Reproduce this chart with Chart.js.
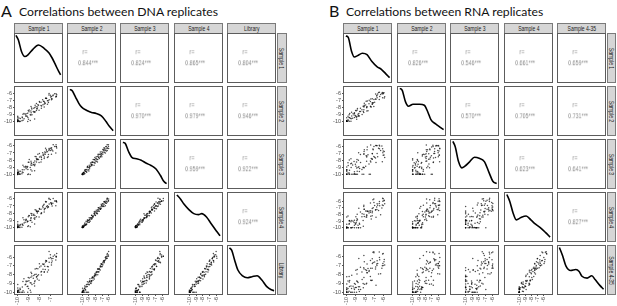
<!DOCTYPE html>
<html>
<head>
<meta charset="utf-8">
<script src="https://cdn.jsdelivr.net/npm/chart.js@4/dist/chart.umd.min.js"></script>
<style>
  body { margin: 0; width: 617px; height: 306px; overflow: hidden; background: #fff; position: relative; font-family: "Liberation Sans", Arial, sans-serif; }
  canvas { position: absolute; }
  .letter { position: absolute; font-family: Lato, "Open Sans", sans-serif; font-size: 16px; line-height: 1; color: #111; }
  .title { position: absolute; font-family: Lato, "Open Sans", sans-serif; font-size: 12.2px; line-height: 1; color: #111; white-space: nowrap; }
  .cell { position: absolute; box-sizing: border-box; border: 1px solid #5c5c5c; background: #fff; }
  .strip { position: absolute; box-sizing: border-box; border: 1px solid #7a7a7a; background: #d6d6d6; color: #1a1a1a; font-size: 7px; display: flex; align-items: center; justify-content: center; white-space: nowrap; overflow: hidden; }
  .strip span { display: inline-block; transform: scaleX(0.72); }
  .rstrip span { transform: rotate(90deg) scaleX(0.72); }
  .corr { position: absolute; font-size: 7.5px; line-height: 1; color: #8c8c8c; white-space: nowrap; transform: translate(-50%, -50%) scaleX(0.72); will-change: transform; }
</style>
</head>
<body>
<script>
// ---- data ----
const dnaNames = ["Sample 1", "Sample 2", "Sample 3", "Sample 4", "Library"];
const rnaNames = ["Sample 1", "Sample 2", "Sample 3", "Sample 4", "Sample 4-35"];

// correlations, row i against the columns to its right
const dnaR = [[0.844, 0.824, 0.865, 0.804], [0.970, 0.979, 0.946], [0.959, 0.922], [0.924]];
const rnaR = [[0.826, 0.546, 0.661, 0.659], [0.570, 0.705, 0.731], [0.623, 0.641], [0.827]];

const tickVals = [-10, -9, -8, -7, -6];
const dnaLimits = [[-10.25, -6.3], [-10.2, -5.65], [-10.2, -5.75], [-10.2, -5.75], [-10.2, -5.2]];
const rnaLimits = [[-10.3, -5.6], [-10.25, -5.6], [-10.25, -5.7], [-10.2, -5.35], [-10.2, -5.3]];

// log values per gene (same gene order in every array)
const dnaS1 = [-10, -9.79, -10, -9.86, -10, -9.08, -10, -8.85, -10, -10,
  -9.61, -9.79, -10, -9.01, -9.92, -9.76, -9.51, -10, -8.45, -9.89,
  -9.42, -9.59, -9.07, -10, -9.13, -9.58, -9.26, -10, -8.69, -9.22,
  -9.32, -8.79, -9.52, -8.85, -9.09, -8.50, -9.23, -8.77, -9.43, -8.41,
  -8.79, -8.97, -8.44, -9.03, -8.57, -8.04, -8.70, -8.94, -8.28, -8.52,
  -8.20, -8.72, -8.26, -8.43, -7.83, -8.78, -8.18, -7.86, -8.31, -7.57,
  -8.09, -8.40, -7.81, -7.56, -8.15, -7.27, -8.28, -7.68, -7.86, -7.47,
  -7.99, -7.18, -7.63, -7.52, -7.20, -8.01, -7.27, -7.58, -6.84, -7.71,
  -6.90, -7.35, -7.11, -7.42, -6.89, -6.50, -7.37, -6.98, -7.44, -6.77,
  -6.45, -6.90, -7.00, -6.47, -7.13, -6.61, -6.42, -6.74, -7.12, -6.48];
const dnaS2 = [-9.94, -10, -9.98, -10, -9.88, -10, -9.96, -9.86, -9.98, -9.76,
  -9.89, -9.96, -9.77, -9.68, -9.83, -9.56, -9.82, -9.62, -9.64, -9.49,
  -9.60, -9.34, -9.43, -9.37, -9.24, -9.44, -9.20, -9.25, -9.01, -9.22,
  -8.96, -9.06, -8.95, -9.01, -8.82, -8.68, -8.90, -8.75, -8.85, -8.62,
  -8.50, -8.60, -8.59, -8.41, -8.56, -8.38, -8.22, -8.35, -8.43, -8.12,
  -8.18, -8.08, -8.17, -8.01, -8.10, -7.84, -7.94, -7.71, -7.89, -7.92,
  -7.66, -7.68, -7.77, -7.51, -7.60, -7.52, -7.42, -7.59, -7.25, -7.42,
  -7.26, -7.28, -7.09, -7.27, -7.04, -7.14, -7.02, -7.13, -6.79, -6.90,
  -6.90, -6.72, -6.89, -6.67, -6.70, -6.50, -6.68, -6.51, -6.67, -6.34,
  -6.42, -6.44, -6.25, -6.39, -6.22, -6.04, -6.20, -6.23, -6.01, -6.04];
const dnaS3 = [-10, -9.97, -10, -9.92, -9.80, -10, -9.96, -10, -9.87, -9.75,
  -9.90, -9.92, -9.71, -9.93, -9.72, -9.54, -9.73, -9.84, -9.47, -9.55,
  -9.34, -9.66, -9.31, -9.63, -9.02, -9.34, -8.84, -9.35, -9.51, -8.90,
  -9.00, -9.32, -8.71, -9.03, -8.88, -8.68, -9.20, -8.39, -8.91, -8.56,
  -8.68, -8.28, -8.79, -8.29, -8.60, -8.34, -8.72, -7.91, -8.27, -8.32,
  -7.92, -8.44, -7.93, -8.11, -7.64, -8.16, -7.82, -8.27, -7.53, -7.78,
  -7.90, -7.50, -7.91, -7.55, -7.16, -7.62, -7.78, -7.27, -7.45, -7.18,
  -7.56, -7.20, -7.31, -6.87, -7.52, -7.08, -6.84, -7.15, -6.59, -6.96,
  -7.16, -6.72, -6.51, -6.93, -6.28, -7.00, -6.54, -6.65, -6.35, -6.72,
  -6.12, -6.44, -6.33, -6.09, -6.64, -6.10, -6.32, -5.85, -6.37, -5.86];
const dnaS4 = [-9.90, -10, -10, -9.94, -10, -9.84, -10, -9.90, -9.94, -9.78,
  -9.97, -9.76, -9.87, -9.76, -9.89, -9.56, -9.68, -9.68, -9.50, -9.67,
  -9.38, -9.50, -9.13, -9.53, -9.24, -9.60, -9.00, -9.19, -9.27, -8.94,
  -9.26, -8.98, -8.65, -9.01, -9.12, -8.72, -8.84, -8.63, -8.91, -8.62,
  -8.70, -8.34, -8.85, -8.49, -8.28, -8.52, -8.08, -8.35, -8.51, -8.14,
  -7.98, -8.30, -7.77, -8.33, -7.96, -8.04, -7.80, -8.07, -7.59, -7.82,
  -7.74, -7.54, -7.97, -7.53, -7.68, -7.24, -7.72, -7.23, -7.47, -7.30,
  -7.46, -7.14, -6.89, -7.37, -7.12, -7.36, -6.96, -6.75, -6.99, -7.02,
  -6.70, -7.06, -6.73, -6.45, -6.76, -6.96, -6.40, -6.55, -6.39, -6.62,
  -6.34, -6.58, -6.09, -6.33, -5.92, -6.32, -6.44, -5.95, -6.03, -6.26];
const dnaLib = [-9.96, -10, -9.88, -10, -9.76, -10, -9.96, -9.78, -10, -9.82,
  -10, -9.56, -10, -9.58, -9.83, -9.68, -9.84, -9.52, -9.28, -9.75,
  -10, -10, -9.33, -9.13, -9.36, -9.40, -9.08, -10, -9.11, -8.82,
  -9.14, -10, -8.77, -8.93, -8.76, -9.00, -8.72, -8.95, -8.47, -8.70,
  -8.30, -8.70, -8.81, -8.33, -8.40, -8.64, -8.16, -8.39, -8.27, -8.10,
  -8.50, -7.86, -8.25, -7.97, -8.04, -7.72, -8.12, -7.71, -7.95, -7.74,
  -8.02, -7.37, -7.63, -7.66, -7.32, -7.71, -7.30, -7.40, -7.03, -7.41,
  -7.12, -7.47, -6.85, -7.04, -7.10, -6.77, -7.08, -6.78, -6.45, -6.79,
  -6.90, -6.49, -6.59, -6.38, -6.64, -6.35, -6.42, -6.04, -6.55, -6.17,
  -5.96, -6.19, -5.73, -6.00, -6.14, -5.77, -5.60, -5.90, -5.37, -5.91];

const rnaS1 = [-9.52, -10, -9.16, -10, -10, -9.74, -9.36, -10, -8.96, -10,
  -9.75, -10, -9.45, -10, -9.03, -9.84, -9.68, -9.16, -10, -9.31,
  -9.86, -8.62, -10, -8.77, -9.56, -9.16, -9.72, -8.83, -8.19, -9.70,
  -9.06, -9.86, -8.73, -8.21, -9.00, -9.20, -8.32, -9.47, -8.59, -7.82,
  -8.86, -9.54, -7.93, -8.49, -8.08, -8.88, -8.12, -8.91, -7.55, -8.34,
  -7.22, -8.50, -8.93, -7.57, -7.88, -8.68, -7.32, -8.11, -7.83, -7.42,
  -8.70, -6.86, -8.13, -7.37, -7.68, -6.80, -8.08, -6.95, -7.75, -7.22,
  -8.14, -6.30, -7.21, -7.41, -6.52, -7.80, -6.68, -7.11, -6.11, -7.38,
  -6.62, -7.78, -6.05, -6.73, -7.04, -6.16, -7.20, -6.43, -5.85, -6.70,
  -7.14, -6.02, -6.45, -5.93, -6.84, -6.08, -6.40, -5.90, -7.03, -6.02];
const rnaS2 = [-9.62, -10, -8.76, -10, -9.90, -9.04, -9.56, -10, -8.46, -10,
  -9.45, -10, -9.25, -10, -8.43, -9.94, -8.88, -9.46, -10, -8.91,
  -9.76, -9.22, -9.50, -8.97, -9.56, -8.86, -10, -8.13, -8.59, -9.50,
  -9.16, -9.26, -9.23, -7.81, -9.30, -9.10, -9.02, -8.67, -8.59, -8.02,
  -8.36, -10, -7.63, -8.59, -7.38, -9.28, -7.92, -9.71, -6.95, -8.34,
  -7.52, -8.10, -9.43, -7.47, -7.08, -8.88, -7.92, -7.81, -7.93, -7.12,
  -9.20, -6.76, -8.33, -6.77, -8.48, -6.80, -7.68, -7.25, -7.05, -7.32,
  -8.74, -6.10, -6.71, -7.81, -5.80, -8.50, -6.58, -7.31, -5.81, -7.88,
  -6.02, -7.88, -6.05, -6.33, -7.84, -5.96, -7.50, -5.78, -6.45, -6.20,
  -7.34, -5.92, -6.85, -5.85, -6.04, -6.58, -6.40, -6.60, -6.83, -5.90];
const rnaS3 = [-9.04, -10, -10, -9.36, -10, -9.82, -8.68, -10, -10, -9.42,
  -10, -9.36, -10, -9.62, -10, -8.76, -10, -9.64, -8.96, -10,
  -8.38, -9.62, -10, -9.05, -8.52, -9.92, -7.96, -10, -8.99, -9.42,
  -8.58, -9.82, -8.01, -9.09, -8.88, -8.20, -10, -8.43, -9.19, -7.54,
  -9.58, -7.78, -8.85, -8.33, -9.08, -7.92, -7.08, -9.11, -10, -9.34,
  -7.86, -7.18, -8.25, -8.53, -7.36, -8.92, -7.76, -6.75, -8.15, -10,
  -6.94, -7.70, -7.17, -8.25, -7.24, -8.32, -6.52, -7.59, -6.11, -7.82,
  -10, -6.62, -7.05, -8.13, -6.32, -7.40, -7.04, -6.51, -8.23, -5.85,
  -7.50, -6.50, -6.93, -5.90, -7.48, -6.00, -7.08, -6.39, -7.63, -5.95,
  -6.42, -6.70, -5.88, -7.25, -5.92, -6.36, -6.00, -6.75, -6.05, -7.30];
const rnaS4 = [-10, -9.48, -10, -9.87, -10, -8.94, -9.96, -10, -9.27, -10,
  -9.48, -9.97, -8.90, -10, -9.49, -10, -8.90, -9.64, -9.99, -9.03,
  -10, -9.33, -8.37, -9.63, -10, -8.89, -9.37, -8.80, -9.80, -8.97,
  -9.32, -8.24, -10, -8.93, -8.36, -9.23, -7.89, -10, -9.49, -8.40,
  -7.97, -9.10, -7.49, -10, -8.31, -8.66, -7.97, -8.96, -7.49, -8.35,
  -8.18, -7.62, -10, -7.79, -8.39, -7.05, -8.70, -7.22, -8.09, -7.65,
  -10, -7.31, -6.61, -8.26, -7.56, -8.43, -7.22, -6.65, -7.52, -7.73,
  -6.78, -8.04, -7.08, -6.26, -7.38, -8.12, -6.39, -6.99, -6.56, -7.42,
  -6.60, -7.47, -5.99, -6.86, -5.64, -7.03, -7.51, -6.03, -6.38, -7.24,
  -5.77, -6.64, -6.33, -5.90, -7.28, -5.55, -6.68, -5.85, -6.20, -5.60];
const rnaS435 = [-10, -9.08, -10, -9.67, -10, -8.24, -10, -9.50, -9.47, -9.90,
  -9.88, -9.67, -8.10, -10, -9.49, -10, -8.70, -9.04, -10, -9.33,
  -9.60, -9.93, -8.27, -8.93, -10, -9.69, -8.87, -8.80, -9.50, -9.37,
  -9.12, -8.74, -9.40, -9.03, -7.56, -9.53, -8.59, -9.60, -9.39, -9.00,
  -7.47, -9.30, -7.49, -9.70, -9.11, -7.96, -8.37, -8.76, -7.59, -7.75,
  -8.68, -7.22, -10, -7.69, -9.09, -6.25, -8.70, -7.42, -7.59, -8.25,
  -9.70, -7.41, -5.91, -8.66, -7.36, -9.23, -6.62, -6.65, -7.82, -7.33,
  -7.28, -7.94, -6.28, -6.46, -7.98, -7.82, -6.49, -6.69, -7.06, -7.32,
  -6.80, -6.87, -6.79, -6.86, -5.50, -7.33, -6.81, -6.13, -6.98, -7.04,
  -5.55, -7.04, -5.53, -6.60, -7.18, -5.75, -6.38, -6.35, -5.60, -5.70];

// density curves on the diagonal:
// x = share of the axis range, y = share of the panel height
const dnaDensX = [
  [0.02, 0.07, 0.14, 0.21, 0.28, 0.38, 0.50, 0.62, 0.72, 0.79, 0.86, 0.93, 0.97],
  [0.04, 0.09, 0.16, 0.23, 0.29, 0.40, 0.50, 0.60, 0.71, 0.81, 0.88, 0.96],
  [0.04, 0.09, 0.16, 0.23, 0.33, 0.43, 0.53, 0.64, 0.74, 0.84, 0.91, 0.97],
  [0.04, 0.12, 0.19, 0.29, 0.40, 0.50, 0.57, 0.67, 0.77, 0.88, 0.96],
  [0.03, 0.08, 0.14, 0.21, 0.31, 0.41, 0.51, 0.62, 0.72, 0.82, 0.92, 0.98]];
const dnaDensY = [
  [0.97, 0.88, 0.63, 0.53, 0.57, 0.68, 0.77, 0.70, 0.61, 0.50, 0.36, 0.22, 0.15],
  [0.95, 0.92, 0.79, 0.66, 0.58, 0.51, 0.47, 0.45, 0.40, 0.28, 0.18, 0.09],
  [0.95, 0.93, 0.76, 0.64, 0.61, 0.58, 0.52, 0.47, 0.40, 0.26, 0.14, 0.09],
  [0.96, 0.87, 0.77, 0.66, 0.57, 0.55, 0.57, 0.50, 0.36, 0.21, 0.11],
  [0.96, 0.91, 0.71, 0.50, 0.38, 0.34, 0.36, 0.38, 0.29, 0.16, 0.09, 0.07]];
const rnaDensX = [
  [0.04, 0.09, 0.16, 0.22, 0.29, 0.39, 0.49, 0.59, 0.70, 0.80, 0.90, 0.97],
  [0.04, 0.09, 0.16, 0.22, 0.32, 0.46, 0.56, 0.63, 0.70, 0.80, 0.90, 0.97],
  [0.04, 0.09, 0.16, 0.23, 0.29, 0.40, 0.50, 0.60, 0.71, 0.81, 0.89, 0.97],
  [0.04, 0.10, 0.17, 0.24, 0.34, 0.45, 0.55, 0.65, 0.75, 0.86, 0.96],
  [0.03, 0.10, 0.17, 0.27, 0.38, 0.45, 0.51, 0.62, 0.72, 0.79, 0.89, 0.97]];
const rnaDensY = [
  [0.96, 0.93, 0.64, 0.52, 0.55, 0.60, 0.57, 0.43, 0.32, 0.26, 0.16, 0.09],
  [0.97, 0.93, 0.69, 0.60, 0.64, 0.64, 0.62, 0.49, 0.32, 0.23, 0.16, 0.11],
  [0.97, 0.86, 0.55, 0.42, 0.45, 0.55, 0.64, 0.62, 0.55, 0.32, 0.14, 0.09],
  [0.97, 0.83, 0.59, 0.44, 0.49, 0.52, 0.44, 0.35, 0.28, 0.18, 0.08],
  [0.97, 0.79, 0.58, 0.49, 0.51, 0.47, 0.37, 0.33, 0.38, 0.30, 0.18, 0.10]];

// ---- layout ----
const panels = [
  { letter: "A", title: "Correlations between DNA replicates", lx: 1, tx: 19,
    cols: [14, 67, 120, 174, 227], rows: [33, 86, 139, 192, 245], rsx: 277, rsw: 10,
    names: dnaNames, r: dnaR, lim: dnaLimits, vals: [dnaS1, dnaS2, dnaS3, dnaS4, dnaLib], dx: dnaDensX, dy: dnaDensY },
  { letter: "B", title: "Correlations between RNA replicates", lx: 329, tx: 346,
    cols: [343, 397, 450, 504, 557], rows: [33, 86, 139, 192, 245], rsx: 607, rsw: 9,
    names: rnaNames, r: rnaR, lim: rnaLimits, vals: [rnaS1, rnaS2, rnaS3, rnaS4, rnaS435], dx: rnaDensX, dy: rnaDensY }
];
const CW = 49, CH = 50;

function addDiv(cls, x, y, w, h, html) {
  const d = document.createElement("div");
  d.className = cls;
  d.style.left = x + "px";
  d.style.top = y + "px";
  if (w != null) d.style.width = w + "px";
  if (h != null) d.style.height = h + "px";
  if (html != null) d.innerHTML = html;
  document.body.appendChild(d);
  return d;
}

function addCanvas(x, y, w, h) {
  const c = document.createElement("canvas");
  c.width = w; c.height = h;
  c.style.left = x + "px"; c.style.top = y + "px";
  c.style.width = w + "px"; c.style.height = h + "px";
  document.body.appendChild(c);
  return c;
}

function axis(lim, show, dir) {
  return {
    type: "linear", min: lim[0], max: lim[1], display: show,
    afterBuildTicks: (s) => {
      s.ticks = tickVals.filter((v) => v >= lim[0] && v <= lim[1]).map((v) => ({ value: v }));
    },
    afterFit: (s) => {
      if (dir === "x") s.height = 12; else s.width = 13;
      s.paddingTop = 0; s.paddingBottom = 0; s.paddingLeft = 0; s.paddingRight = 0;
    },
    grid: { drawOnChartArea: false, drawTicks: true, tickLength: 2, color: "#555" },
    border: { display: false },
    ticks: {
      font: { size: 5.5, family: "Liberation Sans" }, color: "#4d4d4d", padding: 1,
      autoSkip: false, minRotation: dir === "x" ? 90 : 0, maxRotation: dir === "x" ? 90 : 0,
      callback: (v) => String(v)
    }
  };
}

const baseOpts = {
  responsive: false, animation: false, devicePixelRatio: 1, events: [],
  layout: { padding: 0 },
  plugins: { legend: { display: false }, tooltip: { enabled: false } }
};

panels.forEach((p) => {
  addDiv("letter", p.lx, 3).textContent = p.letter;
  addDiv("title", p.tx, 6).textContent = p.title;

  p.names.forEach((nm, k) => {
    addDiv("strip", p.cols[k], 23, CW, 11, "<span>" + nm + "</span>");
    addDiv("strip rstrip", p.rsx, p.rows[k], p.rsw, CH, "<span>" + nm + "</span>");
  });

  for (let i = 0; i < 5; i++) {
    for (let j = 0; j < 5; j++) {
      const L = p.cols[j], T = p.rows[i];
      addDiv("cell", L, T, CW, CH);

      if (i < j) {
        addDiv("corr", L + 18, T + 19).textContent = "r=";
        addDiv("corr", L + 21, T + 30).textContent = p.r[i][j - i - 1].toFixed(3) + "***";
        continue;
      }

      const showY = j === 0 && i > 0;
      const showX = i === 4 && j < 4;
      const cv = addCanvas(L + 1 - (showY ? 13 : 0), T + 1, CW - 2 + (showY ? 13 : 0), CH - 2 + (showX ? 12 : 0));

      if (i === j) {
        const pts = p.dx[i].map((x, k) => ({ x: x, y: p.dy[i][k] }));
        new Chart(cv, {
          type: "scatter",
          data: { datasets: [{ data: pts, showLine: true, borderColor: "#000", borderWidth: 1.6,
            pointRadius: 0, cubicInterpolationMode: "monotone", clip: false }] },
          options: Object.assign({}, baseOpts, {
            scales: { x: { type: "linear", min: 0, max: 1, display: false },
                      y: { type: "linear", min: 0, max: 1, display: false } }
          })
        });
      } else {
        const xs = p.vals[j], ys = p.vals[i];
        const pts = xs.map((x, k) => ({ x: x, y: ys[k] }));
        new Chart(cv, {
          type: "scatter",
          data: { datasets: [{ data: pts, pointRadius: 0.75, borderWidth: 0,
            backgroundColor: "rgba(0,0,0,0.7)" }] },
          options: Object.assign({}, baseOpts, {
            scales: { x: axis(p.lim[j], showX, "x"), y: axis(p.lim[i], showY, "y") }
          })
        });
      }
    }
  }
});
</script>
</body>
</html>
